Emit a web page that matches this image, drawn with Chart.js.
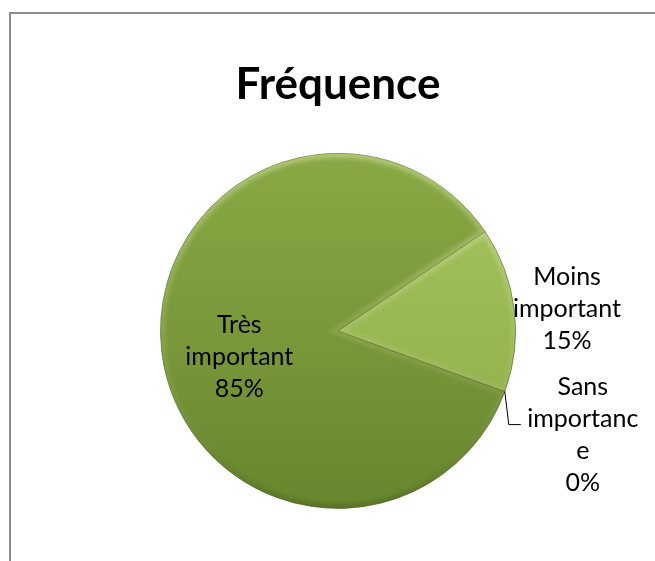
<!DOCTYPE html>
<html>
<head>
<meta charset="utf-8">
<script src="https://cdn.jsdelivr.net/npm/chart.js@4/dist/chart.umd.min.js"></script>
<style>
  html, body { margin: 0; padding: 0; background: #fff; overflow: hidden; }
  #wrap { position: relative; width: 655px; height: 561px; }
  #frame {
    position: absolute; left: 9px; top: 12px; width: 700px; height: 600px;
    border: 2px solid #8c8c8c; box-sizing: border-box;
  }
  canvas { position: absolute; left: 0; top: 0; }
</style>
</head>
<body>
<div id="wrap">
  <div id="frame"></div>
  <canvas id="pieChart" width="655" height="561"></canvas>
</div>
<script>
// données du graphique
const categories = ['Très important', 'Moins important', 'Sans importance'];
const values = [85, 15, 0];
// découpage des étiquettes sur plusieurs lignes
const labelLines = [['Très', 'important'], ['Moins', 'important'], ['Sans', 'importanc', 'e']];
const topColors = ['#89a945', '#a4c45f', '#89a945'];
const bottomColors = ['#68872e', '#8cac47', '#68872e'];

const labelFont = '25px Lato';

function sliceFill(context) {
  const chart = context.chart;
  const area = chart.chartArea;
  if (!area) return topColors[context.dataIndex];
  const g = chart.ctx.createLinearGradient(0, area.top, 0, area.bottom);
  g.addColorStop(0, topColors[context.dataIndex]);
  g.addColorStop(1, bottomColors[context.dataIndex]);
  return g;
}

// effet de biseau sur le bord de chaque secteur
const bevel = {
  id: 'bevel',
  afterDatasetsDraw(chart) {
    const ctx = chart.ctx;
    const area = chart.chartArea;
    chart.getDatasetMeta(0).data.forEach((arc) => {
      const { x, y, startAngle, endAngle, outerRadius } = arc.getProps(['x', 'y', 'startAngle', 'endAngle', 'outerRadius'], true);
      if (endAngle - startAngle < 0.001) return;
      ctx.save();
      ctx.beginPath();
      ctx.moveTo(x, y);
      ctx.arc(x, y, outerRadius, startAngle, endAngle);
      ctx.closePath();
      ctx.clip();
      const g = ctx.createLinearGradient(0, area.top, 0, area.bottom);
      g.addColorStop(0, 'rgba(255,255,210,0.35)');
      g.addColorStop(0.5, 'rgba(255,255,210,0.12)');
      g.addColorStop(1, 'rgba(40,55,10,0.25)');
      ctx.filter = 'blur(2px)';
      ctx.strokeStyle = g;
      ctx.lineWidth = 9;
      ctx.stroke();
      ctx.restore();
    });
  }
};

// étiquettes des secteurs (dans le secteur ou à l'extérieur avec trait de rappel)
const sliceLabels = {
  id: 'sliceLabels',
  afterDatasetsDraw(chart) {
    const ctx = chart.ctx;
    const meta = chart.getDatasetMeta(0);
    ctx.save();
    ctx.font = labelFont;
    ctx.fillStyle = '#000';
    ctx.textAlign = 'center';
    ctx.textBaseline = 'middle';
    const lineH = 32;
    meta.data.forEach((arc, i) => {
      const { x, y, startAngle, endAngle, outerRadius } = arc.getProps(['x', 'y', 'startAngle', 'endAngle', 'outerRadius'], true);
      const mid = (startAngle + endAngle) / 2;
      const lines = labelLines[i].concat([values[i] + '%']);
      let cx, cy;
      if (i === 0) {
        cx = x + Math.cos(mid) * outerRadius * 0.56;
        cy = y + Math.sin(mid) * outerRadius * 0.56 + 14;
      } else if (values[i] > 0) {
        cx = x + Math.cos(mid) * outerRadius * 1.30;
        cy = y + Math.sin(mid) * outerRadius * 1.30 + 6;
      } else {
        const ax = x + Math.cos(startAngle) * outerRadius;
        const ay = y + Math.sin(startAngle) * outerRadius;
        ctx.strokeStyle = '#000';
        ctx.lineWidth = 1;
        ctx.beginPath();
        ctx.moveTo(ax, ay);
        ctx.lineTo(ax + 4, ay + 33);
        ctx.lineTo(ax + 16, ay + 33);
        ctx.stroke();
        cx = ax + 78;
        cy = ay + 43;
      }
      const y0 = cy - (lines.length - 1) * lineH / 2;
      lines.forEach((t, k) => ctx.fillText(t, cx, y0 + k * lineH));
    });
    ctx.restore();
  }
};

new Chart(document.getElementById('pieChart'), {
  type: 'pie',
  data: {
    labels: categories,
    datasets: [{
      data: values,
      backgroundColor: sliceFill,
      borderColor: 'rgba(78, 102, 32, 0.7)',
      borderWidth: 1
    }]
  },
  options: {
    responsive: false,
    animation: false,
    rotation: 110,
    layout: { padding: { left: 160, right: 139, top: 54, bottom: 52 } },
    plugins: {
      legend: { display: false },
      tooltip: { enabled: false },
      title: {
        display: true,
        text: 'Fréquence',
        color: '#000',
        font: { family: 'Lato', size: 44, weight: 'bold' },
        padding: { top: 4, bottom: 42 }
      }
    }
  },
  plugins: [bevel, sliceLabels]
});
</script>
</body>
</html>
